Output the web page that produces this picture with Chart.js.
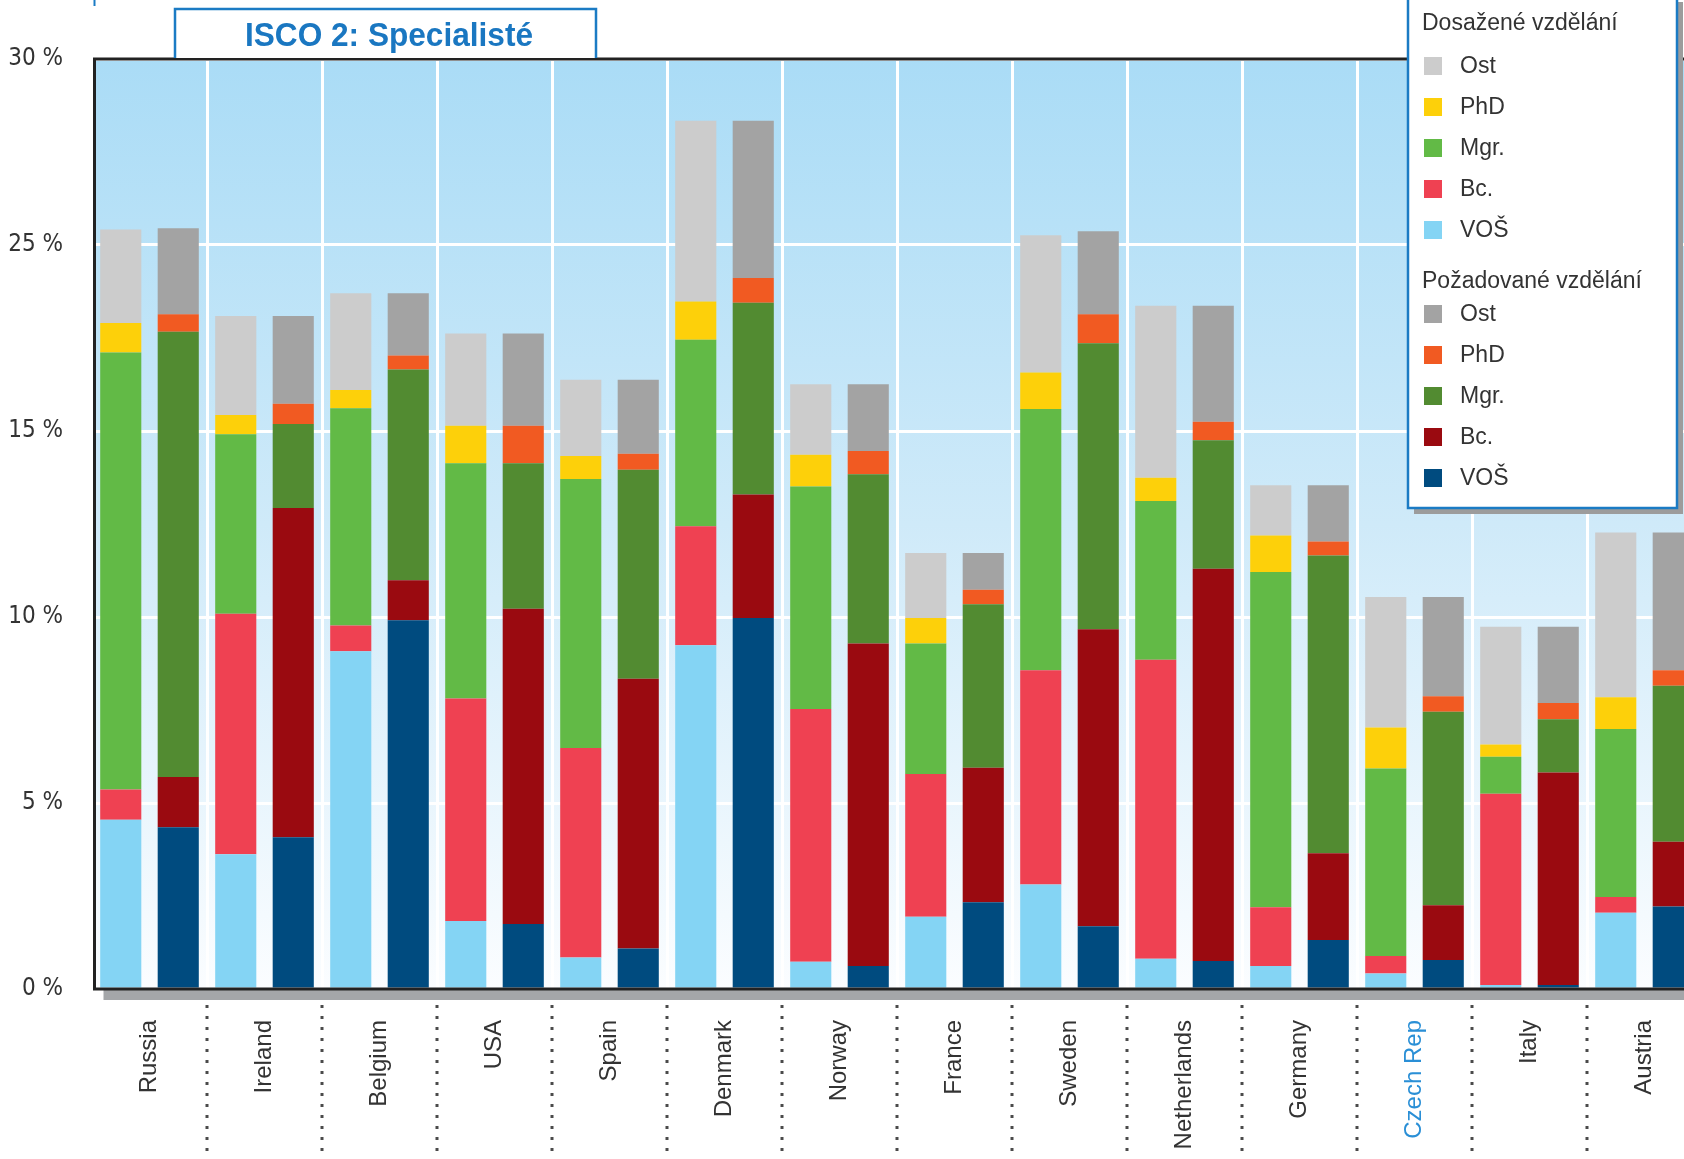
<!DOCTYPE html>
<html lang="cs">
<head>
<meta charset="utf-8">
<title>ISCO 2: Specialisté</title>
<script src="https://cdn.jsdelivr.net/npm/chart.js@4.4.0/dist/chart.umd.min.js"></script>
<style>
  html, body { margin: 0; padding: 0; background: #fff; overflow: hidden; }
  #wrap { width: 1684px; height: 1159px; overflow: hidden; position: relative; }
  canvas { display: block; }
</style>
</head>
<body>
<div id="wrap"><canvas id="isco2" width="1716" height="1159"></canvas></div>
<script>
const countries = ['Russia', 'Ireland', 'Belgium', 'USA', 'Spain', 'Denmark', 'Norway', 'France',
  'Sweden', 'Netherlands', 'Germany', 'Czech Rep', 'Italy', 'Austria'];

// y axis as printed in the original (20 % is missing there)
const yTickLabels = ['0 %', '5 %', '10 %', '15 %', '25 %', '30 %'];

// Dosažené vzdělání (attained)
const vosA = [4.55, 3.62, 9.08, 1.83, 0.85, 9.24, 0.73, 1.94, 2.81, 0.81, 0.62, 0.42, 0.11, 2.05];
const bcA  = [0.81, 6.47, 0.69, 5.98, 5.63, 3.20, 6.80, 3.84, 5.76, 8.04, 1.58, 0.47, 5.14, 0.42];
const mgrA = [11.75, 4.82, 5.84, 6.32, 7.23, 5.01, 5.98, 3.51, 7.02, 4.27, 9.01, 5.04, 0.99, 4.52];
const phdA = [0.79, 0.52, 0.49, 1.01, 0.62, 1.03, 0.85, 0.68, 0.98, 0.62, 0.98, 1.10, 0.33, 0.85];
const ostA = [2.52, 2.66, 2.60, 2.48, 2.05, 4.86, 1.90, 1.75, 3.69, 4.63, 1.35, 3.51, 3.17, 4.43];

// Požadované vzdělání (required)
const vosR = [4.35, 4.08, 9.91, 1.75, 1.09, 9.97, 0.62, 2.33, 1.69, 0.75, 1.32, 0.78, 0.11, 2.22];
const bcR  = [1.35, 8.85, 1.08, 8.47, 7.25, 3.32, 8.67, 3.62, 7.98, 10.55, 2.33, 1.47, 5.71, 1.74];
const mgrR = [11.97, 2.26, 5.66, 3.91, 5.62, 5.16, 4.55, 4.39, 7.69, 3.45, 8.00, 5.20, 1.43, 4.19];
const phdR = [0.47, 0.54, 0.38, 1.01, 0.43, 0.66, 0.62, 0.39, 0.78, 0.50, 0.38, 0.42, 0.44, 0.42];
const ostR = [2.31, 2.36, 1.67, 2.48, 1.99, 4.23, 1.80, 0.99, 2.23, 3.12, 1.51, 2.67, 2.05, 3.70];

const TEXT = '#333333';
const BLUE = '#1b7bc4';

const mk = (label, data, color, stack) => ({
  label: label, data: data, backgroundColor: color, stack: stack, borderWidth: 0
});

const datasets = [
  mk('VOŠ', vosA, '#84d4f4', 'A'),
  mk('Bc.', bcA, '#ef4152', 'A'),
  mk('Mgr.', mgrA, '#62ba46', 'A'),
  mk('PhD', phdA, '#fdd00a', 'A'),
  mk('Ost', ostA, '#cccccc', 'A'),
  mk('VOŠ', vosR, '#004b7f', 'R'),
  mk('Bc.', bcR, '#9a0a10', 'R'),
  mk('Mgr.', mgrR, '#528b31', 'R'),
  mk('PhD', phdR, '#f15a22', 'R'),
  mk('Ost', ostR, '#a3a3a3', 'R'),
];

// sky gradient behind the bars
const backdrop = {
  id: 'backdrop',
  beforeDraw(chart) {
    const { ctx, chartArea: a } = chart;
    ctx.save();
    ctx.fillStyle = '#fff';
    ctx.fillRect(0, 0, chart.width, chart.height);
    const g = ctx.createLinearGradient(0, a.top, 0, a.bottom);
    g.addColorStop(0, '#aadcf6');
    g.addColorStop(0.5, '#cfeaf9');
    g.addColorStop(1, '#fbfdff');
    ctx.fillStyle = g;
    ctx.fillRect(a.left, a.top, a.right - a.left, a.bottom - a.top);
    ctx.restore();
  }
};

// frame, shadow, dotted separators, title box, legend
const decor = {
  id: 'decor',
  afterDraw(chart) {
    const { ctx, chartArea: a } = chart;
    const xs = chart.scales.x;
    const left = a.left + 2.5;
    ctx.save();

    // shadow under x axis
    ctx.fillStyle = '#a4a6a9';
    ctx.fillRect(left + 9, a.bottom + 1, a.right - a.left, 10);

    // plot frame
    ctx.strokeStyle = '#222';
    ctx.lineWidth = 3;
    ctx.beginPath();
    ctx.moveTo(a.right + 2, a.top);
    ctx.lineTo(left, a.top);
    ctx.lineTo(left, a.bottom);
    ctx.lineTo(a.right + 2, a.bottom);
    ctx.stroke();

    // dotted separators below axis
    ctx.strokeStyle = '#4a4a4a';
    ctx.lineWidth = 3;
    ctx.setLineDash([3, 8]);
    for (let i = 1; i < countries.length; i++) {
      const x = Math.round((xs.getPixelForValue(i - 1) + xs.getPixelForValue(i)) / 2);
      ctx.beginPath();
      ctx.moveTo(x, a.bottom + 16);
      ctx.lineTo(x, chart.height);
      ctx.stroke();
    }
    ctx.setLineDash([]);

    // small blue mark top left
    ctx.strokeStyle = BLUE;
    ctx.lineWidth = 2;
    ctx.beginPath();
    ctx.moveTo(left, 0);
    ctx.lineTo(left, 6);
    ctx.stroke();

    // title box
    ctx.fillStyle = '#fff';
    ctx.fillRect(175, 9, 421, a.top - 10);
    ctx.strokeStyle = BLUE;
    ctx.lineWidth = 2.5;
    ctx.beginPath();
    ctx.moveTo(175, a.top - 1);
    ctx.lineTo(175, 9);
    ctx.lineTo(596, 9);
    ctx.lineTo(596, a.top - 1);
    ctx.stroke();
    // condensed look: squeeze the bold title to the width seen in the original
    const title = 'ISCO 2: Specialisté';
    ctx.font = 'bold 34px "Liberation Sans", Arial, sans-serif';
    const tw = ctx.measureText(title).width;
    const sx = 288 / tw;
    ctx.save();
    ctx.translate(389, 46);
    ctx.scale(sx, 1);
    ctx.fillStyle = '#1a77c1';
    ctx.textAlign = 'center';
    ctx.textBaseline = 'alphabetic';
    ctx.fillText(title, 0, 0);
    ctx.restore();

    // legend box
    const bx = 1408, by = -4, bw = 269, bh = 512;
    ctx.fillStyle = '#9c9c9c';
    ctx.fillRect(bx + 6, by + 6, bw, bh);
    ctx.fillStyle = '#fff';
    ctx.fillRect(bx, by, bw, bh);
    ctx.strokeStyle = BLUE;
    ctx.lineWidth = 2.5;
    ctx.strokeRect(bx, by, bw, bh);

    const groups = [
      { title: 'Dosažené vzdělání', stack: 'A', y: 24, first: 66 },
      { title: 'Požadované vzdělání', stack: 'R', y: 282, first: 314 },
    ];
    ctx.textAlign = 'left';
    ctx.textBaseline = 'middle';
    ctx.font = '23px "Liberation Sans", Arial, sans-serif';
    groups.forEach(gr => {
      ctx.fillStyle = TEXT;
      ctx.fillText(gr.title, 1422, gr.y);
      const items = chart.data.datasets.filter(d => d.stack === gr.stack).slice().reverse();
      items.forEach((d, i) => {
        const y = gr.first + i * 41;
        ctx.fillStyle = d.backgroundColor;
        ctx.fillRect(1424, y - 9, 18, 18);
        ctx.fillStyle = TEXT;
        ctx.fillText(d.label, 1460, y + 1);
      });
    });

    ctx.restore();
  }
};

new Chart(document.getElementById('isco2'), {
  type: 'bar',
  data: { labels: countries, datasets: datasets },
  plugins: [backdrop, decor],
  options: {
    responsive: false,
    animation: false,
    devicePixelRatio: 1,
    layout: { padding: { top: 59, right: 14, left: 0, bottom: 0 } },
    datasets: { bar: { categoryPercentage: 1.0, barPercentage: 0.715 } },
    plugins: { legend: { display: false }, tooltip: { enabled: false } },
    scales: {
      x: {
        stacked: true,
        afterFit: s => { s.height = 170; },
        grid: { color: '#ffffff', lineWidth: 3, drawTicks: false, offset: true },
        border: { display: false },
        ticks: {
          maxRotation: 90, minRotation: 90, padding: 31, autoSkip: false,
          font: { family: '"Liberation Sans", Arial, sans-serif', size: 24 },
          color: c => countries[c.index] === 'Czech Rep' ? '#2a8fd6' : TEXT
        }
      },
      y: {
        stacked: true,
        min: 0, max: 25,
        afterFit: s => { s.width = 92; },
        grid: { color: '#ffffff', lineWidth: 3, drawTicks: false },
        border: { display: false },
        ticks: {
          stepSize: 5, padding: 29,
          font: { family: '"Liberation Sans Narrow", "DejaVu Sans Condensed", sans-serif', size: 24 },
          color: TEXT,
          callback: (v, i) => yTickLabels[i]
        }
      }
    }
  }
});
</script>
</body>
</html>
